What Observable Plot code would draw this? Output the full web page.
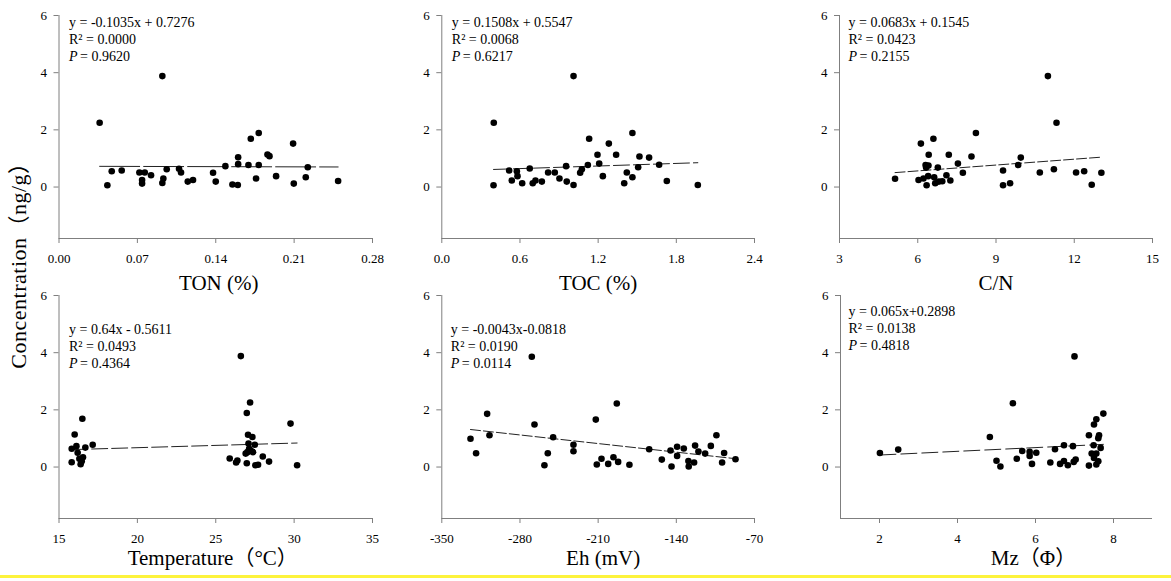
<!DOCTYPE html>
<html>
<head>
<meta charset="utf-8">
<script src="https://cdn.jsdelivr.net/npm/d3@7"></script>
<script src="https://cdn.jsdelivr.net/npm/@observablehq/plot@0.6"></script>
<style>
  body { margin: 0; background: #fff; }
  #wrap { position: relative; width: 1171px; height: 581px; overflow: hidden; background: #fff;
          font-family: "Times New Roman", "Liberation Serif", "Noto Sans CJK SC", serif; }
  .panel { position: absolute; }
  #ytitle { position: absolute; left: 19px; top: 260px; transform: translate(-50%, -50%) rotate(-90deg);
            font-size: 22px; letter-spacing: 0.5px; white-space: nowrap; line-height: 1; color: #000; }
  #band { position: absolute; left: 0; top: 575px; width: 1171px; height: 3px; background: #fdf33c; }
</style>
</head>
<body>
<div id="wrap">
  <div id="ytitle">Concentration（ng/g）</div>
  <div id="band"></div>
</div>
<script>
// ---- data ----
const tonX = [0.0363,0.0432,0.0471,0.056,0.0718,0.0766,0.0742,0.0742,0.0822,0.0923,0.0932,0.0923,0.0962,0.1072,0.109,0.115,0.1197,0.1376,0.14,0.1486,0.1549,0.1597,0.16,0.16,0.1692,0.1713,0.176,0.1784,0.1784,0.1862,0.188,0.1939,0.2091,0.2097,0.2204,0.2222,0.2493];
const tonY = [2.25,0.06,0.55,0.58,0.51,0.51,0.245,0.12,0.41,3.88,0.30,0.14,0.62,0.64,0.51,0.19,0.245,0.50,0.19,0.73,0.09,0.07,1.04,0.80,0.77,1.69,0.30,1.89,0.77,1.14,1.08,0.38,1.52,0.12,0.34,0.69,0.21];

const tocX = [0.399,0.397,0.517,0.537,0.576,0.581,0.617,0.675,0.698,0.719,0.768,0.816,0.867,0.903,0.954,0.959,1.011,1.011,1.062,1.075,1.121,1.131,1.195,1.208,1.236,1.282,1.338,1.40,1.42,1.463,1.463,1.507,1.517,1.591,1.668,1.727,1.965];
const tocY = [2.25,0.06,0.58,0.23,0.55,0.38,0.13,0.65,0.13,0.23,0.19,0.51,0.51,0.30,0.73,0.19,3.88,0.07,0.50,0.62,0.77,1.69,1.13,0.82,0.38,1.52,1.13,0.13,0.51,1.89,0.34,0.69,1.07,1.03,0.78,0.21,0.07];

const cnX = [5.13,6.03,6.12,6.22,6.30,6.32,6.34,6.40,6.41,6.42,6.60,6.63,6.67,6.77,6.81,6.94,7.10,7.19,7.25,7.54,7.73,8.06,8.23,9.27,9.27,9.54,9.85,9.95,10.68,10.99,11.22,11.32,12.07,12.38,12.67,13.04];
const cnY = [0.29,0.245,1.52,0.30,0.77,0.68,0.06,0.38,0.75,1.13,1.69,0.34,0.13,0.68,0.19,0.20,0.41,1.13,0.23,0.82,0.50,1.07,1.89,0.58,0.06,0.13,0.77,1.03,0.51,3.88,0.62,2.25,0.51,0.55,0.08,0.50];

const tempX = [15.81,15.81,16.0,16.11,16.19,16.30,16.38,16.49,16.53,16.45,16.68,17.15,25.89,26.30,26.38,26.60,26.98,27.19,26.98,26.91,27.02,27.06,27.09,27.13,27.23,27.34,27.38,27.49,27.53,27.70,28.0,28.40,29.77,30.19];
const tempY = [0.17,0.64,1.14,0.73,0.50,0.29,0.10,1.69,0.34,0.20,0.68,0.78,0.30,0.16,0.23,3.88,1.89,2.26,0.13,0.47,0.52,1.13,0.82,0.64,0.58,1.05,0.52,0.78,0.06,0.08,0.37,0.19,1.52,0.06];

const ehX = [-324.3,-319.3,-309.4,-307.3,-269.4,-267.0,-258.1,-255.1,-250.3,-232.1,-232.1,-212.1,-211.2,-207.0,-201.0,-196.3,-193.3,-192.1,-182.0,-164.3,-153.0,-145.2,-144.3,-139.3,-139.3,-133.3,-129.2,-128.9,-124.1,-123.2,-120.2,-114.2,-109.1,-104.1,-99.0,-97.2,-87.0];
const ehY = [0.99,0.48,1.86,1.11,3.86,1.49,0.06,0.48,1.04,0.78,0.55,1.66,0.09,0.29,0.11,0.34,2.22,0.18,0.08,0.62,0.26,0.58,0.02,0.71,0.39,0.65,0.21,0.02,0.16,0.75,0.54,0.47,0.74,1.11,0.16,0.49,0.27];

const mzX = [2.01,2.48,4.83,5.0,5.10,5.42,5.52,5.66,5.85,5.85,5.91,6.02,6.38,6.50,6.63,6.73,6.73,6.83,6.96,6.98,7.03,7.0,7.37,7.37,7.44,7.49,7.50,7.50,7.56,7.56,7.56,7.61,7.61,7.63,7.67,7.74];
const mzY = [0.49,0.61,1.05,0.22,0.02,2.23,0.29,0.56,0.53,0.39,0.11,0.50,0.16,0.62,0.11,0.76,0.21,0.06,0.73,0.18,0.26,3.87,1.11,0.05,0.47,0.76,1.49,0.32,1.67,0.47,0.09,0.20,1.01,1.11,0.67,1.87];

// fitted trend lines (slope, intercept) as drawn in the picture
const fitSlope = [-0.1035, 0.1508, 0.0683, 0.016, -0.0043, 0.065];
const fitIntercept = [0.7276, 0.5547, 0.1545, 0.357, -0.0818, 0.2898];

// text
const xTitles = ["TON (%)", "TOC (%)", "C/N", "Temperature（°C）", "Eh (mV)", "Mz（Φ）"];
const eqLabels = ["y = -0.1035x + 0.7276", "y = 0.1508x + 0.5547", "y = 0.0683x + 0.1545", "y = 0.64x - 0.5611", "y = -0.0043x-0.0818", "y = 0.065x+0.2898"];
const r2Labels = ["R² = 0.0000", "R² = 0.0068", "R² = 0.0423", "R² = 0.0493", "R² = 0.0190", "R² = 0.0138"];
const pLabels = ["= 0.9620", "= 0.6217", "= 0.2155", "= 0.4364", "= 0.0114", "= 0.4818"];

// scales & ticks
const xDomains = [[0, 0.28], [0, 2.4], [3, 15], [15, 35], [-350, -70], [1, 9]];
const xTicks = [[0, 0.07, 0.14, 0.21, 0.28], [0, 0.6, 1.2, 1.8, 2.4], [3, 6, 9, 12, 15], [15, 20, 25, 30, 35], [-350, -280, -210, -140, -70], [2, 4, 6, 8]];
const yDomain = [-1.8, 6];
const yTicks = [0, 2, 4, 6];

const xVals = [tonX, tocX, cnX, tempX, ehX, mzX];
const yVals = [tonY, tocY, cnY, tempY, ehY, mzY];
const xFormats = [d3.format(".2f"), d3.format(".1f"), d => String(d), d => String(d), d => String(d), d => String(d)];

// layout (positions / styles)
const layout = [
  {left: 0,   top: 0,   ml: 58.5, ax: 10, ay: 1.5,  tx: 3,  ty: 51, dash: "40,4"},
  {left: 382, top: 0,   ml: 59.3, ax: 10, ay: 1.5,  tx: 0,  ty: 51, dash: "16,4"},
  {left: 780, top: 0,   ml: 59,   ax: 9,  ay: 1.5,  tx: 0,  ty: 51, dash: "10,3"},
  {left: 0,   top: 280, ml: 58.5, ax: 10, ay: 29,   tx: -3, ty: 46, dash: "16,4"},
  {left: 382, top: 280, ml: 59.3, ax: 9,  ay: 29,   tx: 5,  ty: 46, dash: "10,3"},
  {left: 780, top: 280, ml: 60,   ax: 8,  ay: 11,   tx: 37, ty: 46, dash: "16,5"}
];

const FONT = '"Times New Roman", "Liberation Serif", "Noto Sans CJK SC", serif';
const AXIS = "#7f7f7f";
const wrap = document.getElementById("wrap");

for (let i = 0; i < 6; i++) {
  const L = layout[i];
  const data = xVals[i].map((x, k) => ({x, y: yVals[i][k]}));
  const ext = d3.extent(xVals[i]);
  const fit = ext.map(x => ({x, y: fitSlope[i] * x + fitIntercept[i]}));
  const txt = {frameAnchor: "top-left", textAnchor: "start", fontSize: 14, fill: "#000", text: d => d};
  const plot = Plot.plot({
    width: 390, height: 300,
    marginTop: 15, marginBottom: 62, marginLeft: L.ml, marginRight: 18,
    style: {background: "none", fontFamily: FONT, fontSize: "13px", color: "#000", overflow: "visible"},
    x: {domain: xDomains[i]},
    y: {domain: yDomain},
    marks: [
      Plot.ruleX([xDomains[i][0]], {stroke: AXIS}),
      Plot.ruleY([yDomain[0]], {stroke: AXIS}),
      Plot.axisX({ticks: xTicks[i], tickSize: 5, tickPadding: 10, tickFormat: xFormats[i], stroke: AXIS, fill: "#000", label: null}),
      Plot.axisY({ticks: yTicks, tickSize: 5, tickPadding: 7, tickFormat: d => String(d), stroke: AXIS, fill: "#000", label: null}),
      Plot.line(fit, {x: "x", y: "y", stroke: "#222", strokeWidth: 1, strokeDasharray: L.dash}),
      Plot.dot(data, {x: "x", y: "y", r: 3.3, fill: "#000", stroke: null}),
      Plot.text([eqLabels[i]], {...txt, dx: L.ax, dy: L.ay}),
      Plot.text([r2Labels[i]], {...txt, dx: L.ax, dy: L.ay + 17}),
      Plot.text(["P"], {...txt, dx: L.ax, dy: L.ay + 34, fontStyle: "italic"}),
      Plot.text([pLabels[i]], {...txt, dx: L.ax + 11, dy: L.ay + 34}),
      Plot.text([xTitles[i]], {frameAnchor: "bottom", lineAnchor: "bottom", dx: L.tx, dy: L.ty, fontSize: 21, fill: "#000", text: d => d})
    ]
  });
  plot.classList.add("panel");
  plot.style.left = L.left + "px";
  plot.style.top = L.top + "px";
  wrap.insertBefore(plot, document.getElementById("band"));
}
</script>
</body>
</html>
